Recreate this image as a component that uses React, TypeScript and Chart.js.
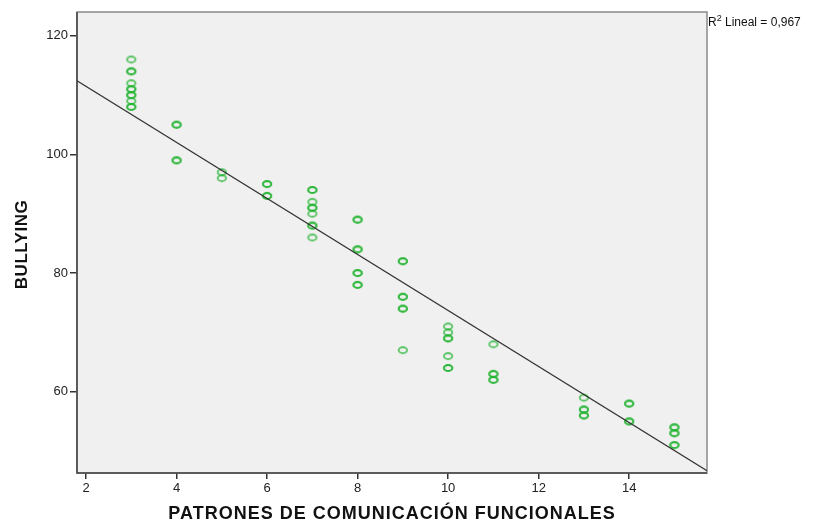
import React, { useEffect, useRef } from "react";
import { Chart, registerables } from "chart.js";

Chart.register(...registerables);

// Data (duplicates where the marker looks darker)
const patronesX: number[] = [
  3, 3, 3, 3, 3, 3, 3, 3, 3, 3, 3,
  4, 4, 4, 4,
  5, 5,
  6, 6, 6, 6,
  7, 7, 7, 7, 7, 7, 7, 7, 7,
  8, 8, 8, 8, 8, 8, 8, 8,
  9, 9, 9, 9, 9, 9, 9,
  10, 10, 10, 10, 10, 10, 10,
  11, 11, 11, 11, 11,
  13, 13, 13, 13, 13,
  14, 14, 14, 14,
  15, 15, 15, 15, 15, 15,
];
const bullyingY: number[] = [
  116, 114, 114, 112, 111, 111, 110, 110, 109, 108, 108,
  105, 105, 99, 99,
  97, 96,
  95, 95, 93, 93,
  94, 94, 92, 91, 91, 90, 88, 88, 86,
  89, 89, 84, 84, 80, 80, 78, 78,
  82, 82, 76, 76, 74, 74, 67,
  71, 70, 69, 69, 66, 64, 64,
  68, 63, 63, 62, 62,
  59, 57, 57, 56, 56,
  58, 58, 55, 55,
  54, 54, 53, 53, 51, 51,
];
// Fit line as shown in the reference (R² Lineal = 0,967)
const regressionIntercept = 120.9;
const regressionSlope = -4.72;
const xTicks: number[] = [2, 4, 6, 8, 10, 12, 14];
const yTicks: number[] = [60, 80, 100, 120];
const xRange: number[] = [1.8, 15.72];
const yRange: number[] = [46.3, 124];
const r2Text = "0,967";
const xTitle = "PATRONES DE COMUNICACIÓN FUNCIONALES";
const yTitle = "BULLYING";

function makeMarker(): HTMLCanvasElement {
  const c = document.createElement("canvas");
  c.width = 12;
  c.height = 10;
  const g = c.getContext("2d")!;
  g.strokeStyle = "rgba(35,180,50,0.75)";
  g.lineWidth = 1.8;
  g.beginPath();
  g.ellipse(6, 5, 4.2, 3.0, 0, 0, Math.PI * 2);
  g.stroke();
  return c;
}

const FONT = "'Liberation Sans', Arial, sans-serif";

export default function App() {
  const ref = useRef<HTMLCanvasElement | null>(null);

  useEffect(() => {
    if (!ref.current) return;
    const marker = makeMarker();
    const pts = patronesX.map((x, i) => ({ x, y: bullyingY[i] }));
    const linePts = xRange.map((x) => ({ x, y: regressionIntercept + regressionSlope * x }));

    const framePlugin = {
      id: "frame",
      beforeDatasetsDraw(chart: any) {
        const { ctx, chartArea: a } = chart;
        ctx.save();
        ctx.fillStyle = "#f0f0f0";
        ctx.fillRect(a.left, a.top, a.right - a.left, a.bottom - a.top);
        ctx.strokeStyle = "#8a8a8a";
        ctx.lineWidth = 1.5;
        ctx.strokeRect(a.left, a.top, a.right - a.left, a.bottom - a.top);
        ctx.strokeStyle = "#444";
        ctx.lineWidth = 1.5;
        ctx.beginPath();
        ctx.moveTo(a.left, a.top);
        ctx.lineTo(a.left, a.bottom);
        ctx.lineTo(a.right, a.bottom);
        ctx.stroke();
        ctx.restore();
      },
      afterDraw(chart: any) {
        const { ctx, chartArea: a } = chart;
        ctx.save();
        ctx.fillStyle = "#111";
        ctx.textBaseline = "alphabetic";
        ctx.textAlign = "left";
        let x = a.right + 1;
        const y = a.top + 14;
        ctx.font = `12px ${FONT}`;
        ctx.fillText("R", x, y);
        x += ctx.measureText("R").width;
        ctx.font = `9px ${FONT}`;
        ctx.fillText("2", x, y - 5);
        x += ctx.measureText("2").width + 2;
        ctx.font = `12px ${FONT}`;
        ctx.fillText(" Lineal = " + r2Text, x - 2, y);

        // axis titles
        (ctx as any).letterSpacing = "1px";
        ctx.fillStyle = "#111";
        ctx.font = `bold 18px ${FONT}`;
        ctx.textAlign = "center";
        ctx.fillText(xTitle, (a.left + a.right) / 2, 519);
        (ctx as any).letterSpacing = "0.5px";
        ctx.font = `bold 17px ${FONT}`;
        ctx.translate(27, (a.top + a.bottom) / 2 + 2);
        ctx.rotate(-Math.PI / 2);
        ctx.fillText(yTitle, 0, 0);
        ctx.restore();
      },
    };

    const chart = new Chart(ref.current, {
      type: "scatter",
      data: {
        datasets: [
          {
            type: "line",
            data: linePts,
            borderColor: "#333",
            borderWidth: 1.2,
            pointRadius: 0,
            fill: false,
          } as any,
          {
            data: pts,
            pointStyle: marker as any,
            pointRadius: 5,
            borderColor: "rgba(35,180,50,0.75)",
          },
        ],
      },
      options: {
        animation: false,
        responsive: false,
        maintainAspectRatio: false,
        events: [],
        layout: { padding: { top: 12, right: 109, left: 0, bottom: 0 } },
        plugins: { legend: { display: false }, tooltip: { enabled: false } },
        scales: {
          x: {
            type: "linear",
            min: xRange[0],
            max: xRange[1],
            afterBuildTicks: (s: any) => {
              s.ticks = xTicks.map((v) => ({ value: v }));
            },
            afterFit: (s: any) => {
              s.height = 47;
            },
            border: { display: false },
            grid: {
              drawOnChartArea: false,
              drawTicks: true,
              tickLength: 6,
              tickColor: "#333",
              lineWidth: 1.5,
            },
            ticks: {
              color: "#222",
              font: { family: FONT, size: 13 },
              padding: 2,
              maxRotation: 0,
            },
            title: { display: false },
          },
          y: {
            type: "linear",
            min: yRange[0],
            max: yRange[1],
            afterBuildTicks: (s: any) => {
              s.ticks = yTicks.map((v) => ({ value: v }));
            },
            afterFit: (s: any) => {
              s.width = 77;
            },
            border: { display: false },
            grid: {
              drawOnChartArea: false,
              drawTicks: true,
              tickLength: 7,
              tickColor: "#333",
              lineWidth: 1.5,
            },
            ticks: {
              color: "#222",
              font: { family: FONT, size: 13 },
              padding: 2,
            },
            title: { display: false },
          },
        },
      },
      plugins: [framePlugin],
    } as any);
    return () => chart.destroy();
  }, []);

  return (
    <div style={{ position: "fixed", left: 0, top: 0, width: 816, height: 520, background: "#fff" }}>
      <canvas ref={ref} width={816} height={520} style={{ display: "block", width: 816, height: 520 }} />
    </div>
  );
}
